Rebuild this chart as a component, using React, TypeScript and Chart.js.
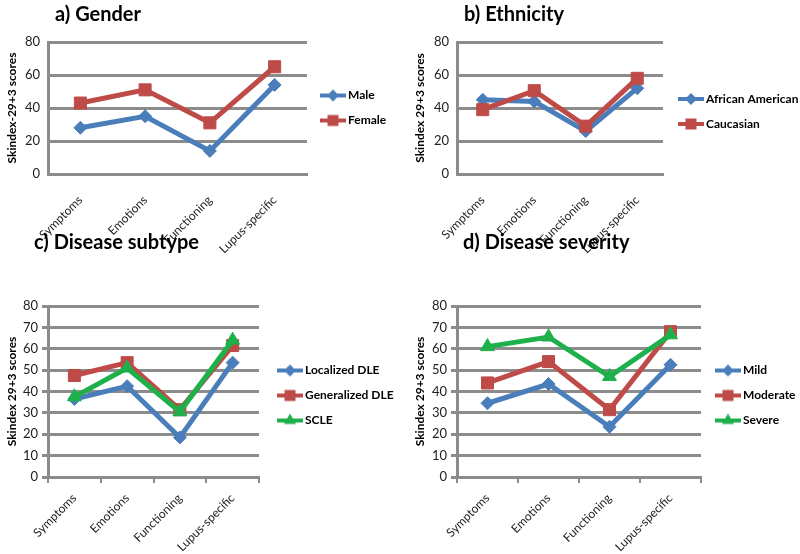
import React, { useEffect, useRef } from 'react';
import { Chart, registerables } from 'chart.js';

Chart.register(...registerables);

// ---------- data ----------
const categories = ['Symptoms', 'Emotions', 'Functioning', 'Lupus-specific'];

const genderMale = [28, 35, 14, 54];
const genderFemale = [43, 51, 31, 65];

const ethAfricanAmerican = [45, 44, 26, 52];
const ethCaucasian = [39, 50.5, 29, 58];

const subtypeLocalizedDLE = [36.5, 42.5, 18.5, 53.5];
const subtypeGeneralizedDLE = [47.5, 53.5, 31.5, 61.5];
const subtypeSCLE = [37.5, 51, 30.5, 64];

const severityMild = [34.5, 43.5, 23.5, 52.5];
const severityModerate = [44, 54, 31.5, 68];
const severitySevere = [61, 65.5, 47, 66.5];

const yMin = 0;
const yMax = 80;
const yStep = 10;

// ---------- styles ----------
const FAMILY = 'Lato, "Open Sans", "DejaVu Sans", sans-serif';
const BLUE = '#4A7EBB';
const RED = '#BE4B48';
const GREEN = '#1EB04B';
const GRID = '#8C8C8C';
const LEGEND_FONT_SIZE = 12;
const LEGEND_PAD = 13;
const LINE_LEN = 26;

type Style = 'rectRot' | 'rect' | 'triangle';
type Series = { label: string; data: number[]; color: string; style: Style };

const RADIUS: Record<Style, number> = { rectRot: 6.5, rect: 8.5, triangle: 8 };

function legendImage(color: string, style: Style, margin: number) {
  const c = document.createElement('canvas');
  c.width = margin + LINE_LEN;
  c.height = 16;
  const ctx = c.getContext('2d')!;
  const cy = 8;
  ctx.strokeStyle = color;
  ctx.lineWidth = 4;
  ctx.beginPath();
  ctx.moveTo(margin, cy);
  ctx.lineTo(margin + LINE_LEN, cy);
  ctx.stroke();
  ctx.fillStyle = color;
  const cx = margin + LINE_LEN / 2;
  ctx.beginPath();
  if (style === 'rectRot') {
    const r = 6;
    ctx.moveTo(cx, cy - r);
    ctx.lineTo(cx + r, cy);
    ctx.lineTo(cx, cy + r);
    ctx.lineTo(cx - r, cy);
  } else if (style === 'rect') {
    ctx.rect(cx - 5.5, cy - 5.5, 11, 11);
  } else {
    const r = 7;
    ctx.moveTo(cx, cy - r);
    ctx.lineTo(cx + r * 0.866, cy + r / 2);
    ctx.lineTo(cx - r * 0.866, cy + r / 2);
  }
  ctx.closePath();
  ctx.fill();
  return c;
}

type PanelProps = {
  left: number;
  top: number;
  height: number;
  title: string;
  titleX: number;
  titleY: number;
  yTitle: string;
  series: Series[];
  area: { l: number; r: number; t: number; b: number };
  padL: number;
  ticks: boolean;
  legendMargin: number;
  legendShiftDown: number;
  xLabelPad: number;
};

function Panel(p: PanelProps) {
  const ref = useRef<HTMLCanvasElement | null>(null);

  useEffect(() => {
    const canvas = ref.current;
    if (!canvas) return;
    const imgs = p.series.map((s) => legendImage(s.color, s.style, p.legendMargin));
    const iw = p.legendMargin + LINE_LEN;
    const pws = iw - 8;
    const legendFont = { family: FAMILY, size: LEGEND_FONT_SIZE, weight: 'bold' as const };

    // width the legend will take, measured the way Chart.js measures it
    const mctx = document.createElement('canvas').getContext('2d')!;
    mctx.font = `bold ${LEGEND_FONT_SIZE}px ${FAMILY}`;
    const maxText = Math.max(...p.series.map((s) => mctx.measureText(s.label).width));
    const legendW = LEGEND_PAD + pws + LEGEND_FONT_SIZE / 2 + maxText + 10;
    const width = Math.ceil(p.area.r + legendW + 2);
    canvas.width = width;
    canvas.height = p.height;
    canvas.style.width = width + 'px';
    canvas.style.height = p.height + 'px';

    const titlePlugin = {
      id: 'panelTitle',
      afterDraw(chart: any) {
        const ctx = chart.ctx;
        ctx.save();
        ctx.font = `bold 20px ${FAMILY}`;
        ctx.fillStyle = '#000';
        ctx.textAlign = 'left';
        ctx.textBaseline = 'middle';
        ctx.fillText(p.title, p.titleX, p.titleY);
        ctx.restore();
      },
    };

    // an empty legend title only used to push the legend items down a little
    const shift = p.legendShiftDown * 2;
    const spacerLine = 0.12;

    const chart = new Chart(canvas, {
      type: 'line',
      data: {
        labels: categories,
        datasets: p.series.map((s, i) => ({
          label: s.label,
          data: s.data,
          borderColor: s.color,
          backgroundColor: s.color,
          borderWidth: 5,
          pointStyle: s.style,
          pointRadius: RADIUS[s.style],
          pointHoverRadius: RADIUS[s.style],
          pointBackgroundColor: s.color,
          pointBorderColor: s.color,
          pointBorderWidth: 1,
          tension: 0,
          order: p.series.length - i,
          clip: false as any,
        })),
      },
      options: {
        animation: false,
        responsive: false,
        maintainAspectRatio: false,
        events: [],
        layout: {
          padding: { left: p.padL, top: p.area.t, right: width - p.area.r - legendW, bottom: 0 },
        },
        plugins: {
          title: { display: false },
          tooltip: { enabled: false },
          legend: {
            display: true,
            position: 'right',
            fullSize: false,
            align: 'center',
            maxWidth: legendW + 4,
            title: {
              display: shift > 0,
              text: '',
              color: '#000',
              font: { ...legendFont, lineHeight: spacerLine / LEGEND_FONT_SIZE },
              padding: { top: Math.max(shift - spacerLine, 0), bottom: 0 },
            },
            labels: {
              usePointStyle: true,
              pointStyleWidth: pws,
              padding: LEGEND_PAD,
              color: '#000',
              font: legendFont,
              generateLabels: (ch: any) =>
                ch.data.datasets.map((ds: any, i: number) => ({
                  text: ds.label,
                  pointStyle: imgs[i],
                  fillStyle: ds.borderColor,
                  strokeStyle: ds.borderColor,
                  fontColor: '#000',
                  lineWidth: 0,
                  hidden: false,
                  datasetIndex: i,
                })),
            },
          },
        },
        scales: {
          x: {
            type: 'category',
            offset: true,
            grid: {
              display: p.ticks,
              drawOnChartArea: false,
              drawTicks: true,
              tickLength: 6,
              color: GRID,
              lineWidth: 2,
              offset: true,
            },
            border: { display: true, color: GRID, width: 3 },
            ticks: {
              autoSkip: false,
              minRotation: 45,
              maxRotation: 45,
              padding: p.xLabelPad,
              color: '#222',
              font: { family: FAMILY, size: 12 },
            },
            afterFit: (s: any) => {
              s.height = p.height - p.area.b;
            },
          },
          y: {
            min: yMin,
            max: yMax,
            ticks: {
              stepSize: yStep,
              padding: p.ticks ? 4 : 8,
              color: '#222',
              font: { family: FAMILY, size: 13 },
            },
            grid: {
              color: GRID,
              lineWidth: 3,
              drawTicks: p.ticks,
              tickLength: 6,
            },
            border: { display: true, color: GRID, width: 3 },
            title: {
              display: true,
              text: p.yTitle,
              color: '#000',
              padding: 0,
              font: { family: FAMILY, size: 12, weight: 'bold' },
            },
            afterFit: (s: any) => {
              s.width = p.area.l - p.padL;
            },
          },
        },
      } as any,
      plugins: [titlePlugin],
    });
    return () => chart.destroy();
  }, []);

  return <canvas ref={ref} style={{ position: 'absolute', left: p.left, top: p.top }} />;
}

export default function App() {
  return (
    <div
      style={{
        position: 'absolute',
        left: 0,
        top: 0,
        width: 800,
        height: 554,
        overflow: 'hidden',
        background: '#fff',
      }}
    >
      <Panel
        left={0}
        top={0}
        height={262}
        title="a) Gender"
        titleX={55}
        titleY={15}
        yTitle="Skindex-29+3 scores"
        series={[
          { label: 'Male', data: genderMale, color: BLUE, style: 'rectRot' },
          { label: 'Female', data: genderFemale, color: RED, style: 'rect' },
        ]}
        area={{ l: 48, r: 307, t: 42, b: 174 }}
        padL={5}
        ticks={false}
        legendMargin={4}
        legendShiftDown={0}
        xLabelPad={13}
      />
      <Panel
        left={400}
        top={0}
        height={262}
        title="b) Ethnicity"
        titleX={64}
        titleY={15}
        yTitle="Skindex 29+3 scores"
        series={[
          { label: 'African American', data: ethAfricanAmerican, color: BLUE, style: 'rectRot' },
          { label: 'Caucasian', data: ethCaucasian, color: RED, style: 'rect' },
        ]}
        area={{ l: 57, r: 263, t: 42, b: 174 }}
        padL={13}
        ticks={false}
        legendMargin={6}
        legendShiftDown={3.5}
        xLabelPad={13}
      />
      <Panel
        left={0}
        top={228}
        height={326}
        title="c) Disease subtype"
        titleX={34}
        titleY={15}
        yTitle="Skindex 29+3 scores"
        series={[
          { label: 'Localized DLE', data: subtypeLocalizedDLE, color: BLUE, style: 'rectRot' },
          { label: 'Generalized DLE', data: subtypeGeneralizedDLE, color: RED, style: 'rect' },
          { label: 'SCLE', data: subtypeSCLE, color: GREEN, style: 'triangle' },
        ]}
        area={{ l: 48, r: 259, t: 78, b: 249 }}
        padL={5}
        ticks={true}
        legendMargin={9}
        legendShiftDown={4}
        xLabelPad={8}
      />
      <Panel
        left={400}
        top={228}
        height={326}
        title="d) Disease severity"
        titleX={63}
        titleY={15}
        yTitle="Skindex 29+3 scores"
        series={[
          { label: 'Mild', data: severityMild, color: BLUE, style: 'rectRot' },
          { label: 'Moderate', data: severityModerate, color: RED, style: 'rect' },
          { label: 'Severe', data: severitySevere, color: GREEN, style: 'triangle' },
        ]}
        area={{ l: 57, r: 301, t: 78, b: 249 }}
        padL={13}
        ticks={true}
        legendMargin={5}
        legendShiftDown={4}
        xLabelPad={8}
      />
    </div>
  );
}
